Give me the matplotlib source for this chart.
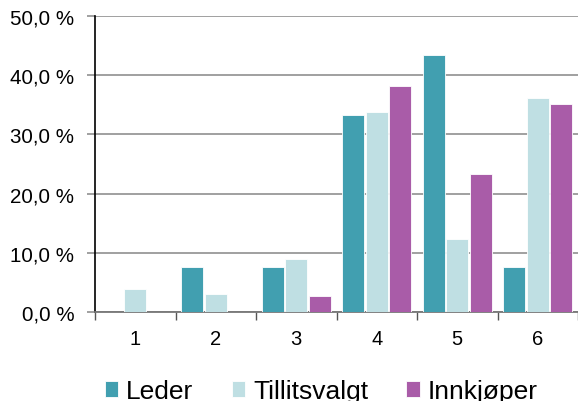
import numpy as np
import matplotlib
matplotlib.use("Agg")
import matplotlib.pyplot as plt
from matplotlib.ticker import FuncFormatter, FixedLocator

plt.rcParams['font.family'] = ['Liberation Sans', 'DejaVu Sans']

categories = ['1', '2', '3', '4', '5', '6']
leder = [0.0, 7.6, 7.6, 33.2, 43.4, 7.6]
tillitsvalgt = [3.9, 3.1, 9.0, 33.7, 12.4, 36.1]
innkjoper = [0.0, 0.0, 2.8, 38.1, 23.4, 35.2]

series = [('Leder', leder, '#419FB0'),
          ('Tillitsvalgt', tillitsvalgt, '#BFDFE3'),
          ('Innkjøper', innkjoper, '#A95CA8')]

fig = plt.figure(figsize=(5.78, 4.02), dpi=100)
ax = fig.add_axes((0.1644, 0.2206, 0.8356, 0.7378))

x = np.arange(len(categories))
w = 0.275
step = 0.292
for i, (name, vals, col) in enumerate(series):
    ax.bar(x + (i - 1) * step, vals, w, color=col, label=name,
           edgecolor='white', linewidth=0.6, zorder=3)

ax.set_xlim(-0.5, len(categories) - 0.5)
ax.set_ylim(0, 50)
ax.set_yticks(range(0, 51, 10))
ax.yaxis.set_major_formatter(FuncFormatter(lambda v, p: f'{v:.1f} %'.replace('.', ',')))
ax.grid(axis='y', color='#999999', linewidth=1.3, zorder=0)

ax.set_xticks(x)
ax.set_xticklabels(categories)
ax.xaxis.set_minor_locator(FixedLocator(np.arange(-0.5, len(categories), 1.0)))
ax.tick_params(axis='x', which='major', length=0, pad=12, labelsize=14.5)
ax.tick_params(axis='x', which='minor', length=6, width=1, color='#555555', direction='out')
ax.tick_params(axis='y', length=6, width=1.3, color='#999999', labelsize=14.8, pad=9)

for s in ['top', 'right']:
    ax.spines[s].set_visible(False)
ax.spines['left'].set_color('black')
ax.spines['left'].set_linewidth(1.2)
ax.spines['bottom'].set_color('#777777')
ax.spines['bottom'].set_linewidth(1.3)

fig.legend(loc='lower center', ncol=3, frameon=False, fontsize=19,
           bbox_to_anchor=(0.556, -0.065), handlelength=0.5, handleheight=0.5,
           handletextpad=0.3, columnspacing=1.45)

fig.savefig('out.png', dpi=100)
